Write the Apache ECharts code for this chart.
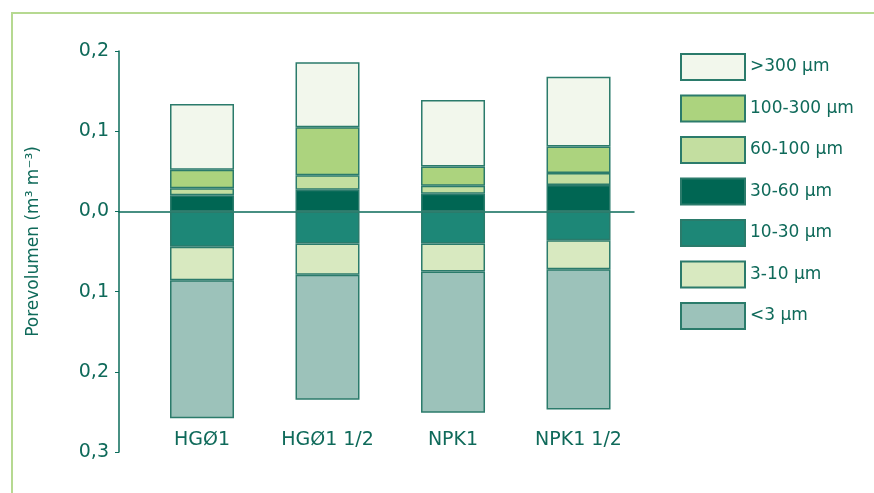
<!DOCTYPE html>
<html>
<head>
<meta charset="utf-8">
<script src="https://cdn.jsdelivr.net/npm/echarts@6/dist/echarts.min.js"></script>
<style>
    html, body { margin: 0; padding: 0; background: #fff; }
    .frame { position: absolute; left: 11px; top: 12px; right: 0; bottom: 0; border-left: 2px solid #b6d991; border-top: 2px solid #b6d991; }
    .chart { position: absolute; left: 0; top: 0; width: 874px; height: 493px; }
</style>
</head>
<body>
<div class="frame"></div>
<div class="chart"></div>
<script>
// 类别与数据
var categories = ['HGØ1', 'HGØ1 1/2', 'NPK1', 'NPK1 1/2'];
var yTickLabels = ['0,3', '0,2', '0,1', '0,0', '0,1', '0,2'];

// 正方向 (0 以上)
var v30_60 = [0.020, 0.027, 0.022, 0.033];
var v60_100 = [0.009, 0.018, 0.010, 0.015];
var v100_300 = [0.023, 0.060, 0.024, 0.033];
var vOver300 = [0.082, 0.081, 0.083, 0.087];
// 负方向 (0 以下)
var v10_30 = [-0.044, -0.040, -0.040, -0.036];
var v3_10 = [-0.042, -0.039, -0.035, -0.036];
var vUnder3 = [-0.172, -0.156, -0.176, -0.175];

(function () {
    var myChart = echarts.init(document.getElementsByClassName('chart')[0]);
    var textColor = '#0f6a5a';
    var font = 'DejaVu Sans';

    // [值, 类别序号] —— 值放在第一维，堆叠才会按 y 方向
    function pts(arr) {
        return arr.map(function (v, i) { return [v, i]; });
    }
    function bar(name, data, color) {
        return {
            name: name,
            type: 'bar',
            stack: 'pore',
            barWidth: 64,
            xAxisIndex: 0,
            encode: { x: 1, y: 0 },
            data: pts(data),
            itemStyle: {
                color: color,
                borderColor: '#2b7b6b',
                borderWidth: 1.5
            }
        };
    }

    var option = {
        animation: false,
        grid: {
            left: 119,
            right: 240,
            top: 51,
            bottom: 41
        },
        legend: {
            orient: 'vertical',
            left: 680,
            top: 53,
            padding: 0,
            itemWidth: 64,
            itemHeight: 26,
            itemGap: 13.5,
            icon: 'rect',
            textStyle: { color: textColor, fontSize: 17, fontFamily: font },
            data: ['>300 µm', '100-300 µm', '60-100 µm', '30-60 µm', '10-30 µm', '3-10 µm', '<3 µm']
        },
        xAxis: [
            {
                type: 'value',
                min: -0.6614,
                max: 3.442,
                axisLine: { onZero: true, lineStyle: { color: '#0b6b5a', width: 1.5 } },
                axisTick: { show: false },
                axisLabel: { show: false },
                splitLine: { show: false }
            },
            {
                type: 'value',
                min: -0.6614,
                max: 3.442,
                position: 'bottom',
                offset: -29,
                axisLine: { show: false },
                axisTick: { show: false },
                splitLine: { show: false },
                axisLabel: {
                    customValues: [0, 1, 2, 3],
                    color: textColor,
                    fontSize: 19,
                    fontFamily: font,
                    margin: 8,
                    formatter: function (v) { return categories[v]; }
                }
            }
        ],
        yAxis: {
            type: 'value',
            min: -0.3,
            max: 0.2,
            interval: 0.1,
            name: 'Porevolumen (m³ m⁻³)',
            nameLocation: 'middle',
            nameRotate: 90,
            nameGap: 77,
            nameTextStyle: { color: textColor, fontSize: 17, fontFamily: font, padding: [0, 0, 0, 20] },
            axisLine: { onZero: false, lineStyle: { color: '#0b6b5a', width: 1.5 } },
            axisTick: { show: true, length: 4, lineStyle: { color: '#0b6b5a' } },
            splitLine: { show: false },
            axisLabel: {
                color: textColor,
                fontSize: 19,
                fontFamily: font,
                margin: 10,
                formatter: function (v, i) { return yTickLabels[i]; }
            }
        },
        series: [
            bar('30-60 µm', v30_60, '#006653'),
            bar('60-100 µm', v60_100, '#c3dea0'),
            bar('100-300 µm', v100_300, '#acd37e'),
            bar('>300 µm', vOver300, '#f2f7ec'),
            bar('10-30 µm', v10_30, '#1d8777'),
            bar('3-10 µm', v3_10, '#d8e9c0'),
            bar('<3 µm', vUnder3, '#9cc2ba')
        ]
    };
    myChart.setOption(option);
    window.addEventListener('resize', function () {
        myChart.resize();
    })
})();
</script>
</body>
</html>
